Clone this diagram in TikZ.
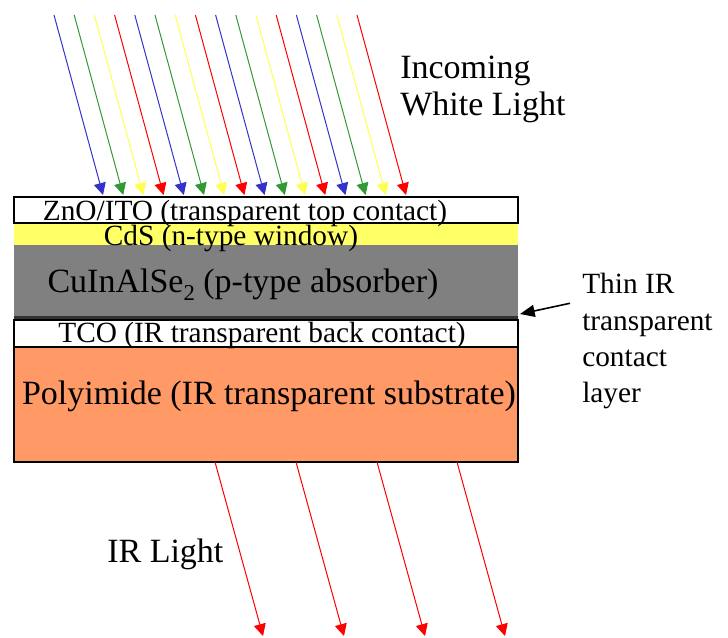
\documentclass[tikz,border=0pt]{standalone}
\usepackage{fontspec}
\setmainfont{Liberation Serif}
\usetikzlibrary{arrows.meta}
\definecolor{rayblue}{RGB}{51,51,204}
\definecolor{raygreen}{RGB}{51,153,51}
\definecolor{rayyellow}{RGB}{255,255,80}
\definecolor{rayred}{RGB}{255,0,0}
\definecolor{cdsyellow}{RGB}{255,255,102}
\definecolor{cigsgray}{RGB}{128,128,128}
\definecolor{pioranges}{RGB}{255,153,102}

\begin{document}
\begin{tikzpicture}[x=0.75pt,y=-0.75pt,>={Triangle[length=9pt,width=9pt]}]
  \tikzstyle{big}=[font=\fontsize{25.5}{28}\selectfont,inner sep=0pt]
  \tikzstyle{small}=[font=\fontsize{22}{27}\selectfont,inner sep=0pt]
  \tikzstyle{ray}=[->,line width=0.75pt]
  \useasboundingbox (0,0) rectangle (728,637);

  % layer stack
  \fill[cdsyellow] (14,223) rectangle (518,245);
  \fill[cigsgray] (14,245) rectangle (518,316);
  \fill[black!80] (14,316) rectangle (518,320);
  \draw[fill=white,line width=1pt] (14,197) rectangle (518,223);
  \draw[fill=white,line width=1pt] (14,320) rectangle (518,347);
  \draw[fill=pioranges,line width=1.3pt] (14,347) rectangle (518,462);
  \coordinate (thinedge) at (520,314);

  \node[small,anchor=base] (zno) at (245,220) {ZnO/ITO (transparent top contact)};
  \node[small,anchor=base] (cds) at (231,245) {CdS (n-type window)};
  \node[big,anchor=base] (cigs) at (243,292) {CuInAlSe\raisebox{-0.25em}{\fontsize{17}{17}\selectfont 2} (p-type absorber)};
  \node[small,anchor=base] (tco) at (262,342) {TCO (IR transparent back contact)};
  \node[big,anchor=base] (pi) at (269,404) {Polyimide (IR transparent substrate)};

  % incoming white light
  \foreach \k in {0,...,3}
    \foreach \c [count=\j from 0] in {rayblue,raygreen,rayyellow,rayred} {
      \pgfmathsetmacro{\xs}{54+20.2*(4*\k+\j)}
      \coordinate (in\k\j) at (\xs,15);
      \coordinate (hit\k\j) at (\xs+49,195);
      \draw[ray,\c] (in\k\j) -- (hit\k\j);
    }
  \node[big,anchor=base west] (incoming) at (400,78) {Incoming};
  \node[big,anchor=base west] (white) at (400,115) {White Light};

  % transmitted IR light
  \foreach \x [count=\i] in {215,296,377,457} {
    \coordinate (out\i) at (\x,462);
    \coordinate (end\i) at (\x+48,636);
    \draw[ray,rayred] (out\i) -- (end\i);
  }
  \node[big,anchor=base west] (ir) at (107,562) {IR Light};

  % callout
  \node[small,anchor=base west] (thin) at (582,293) {Thin IR};
  \node[small,anchor=base west] (thin2) at (582,330) {transparent};
  \node[small,anchor=base west] (thin3) at (582,366) {contact};
  \node[small,anchor=base west] (thin4) at (582,402) {layer};
  \draw[-{Triangle[length=11pt,width=9pt]},line width=1.2pt] ([xshift=-9pt,yshift=-7.5pt]thin.south west) -- (thinedge);
\end{tikzpicture}
\end{document}
